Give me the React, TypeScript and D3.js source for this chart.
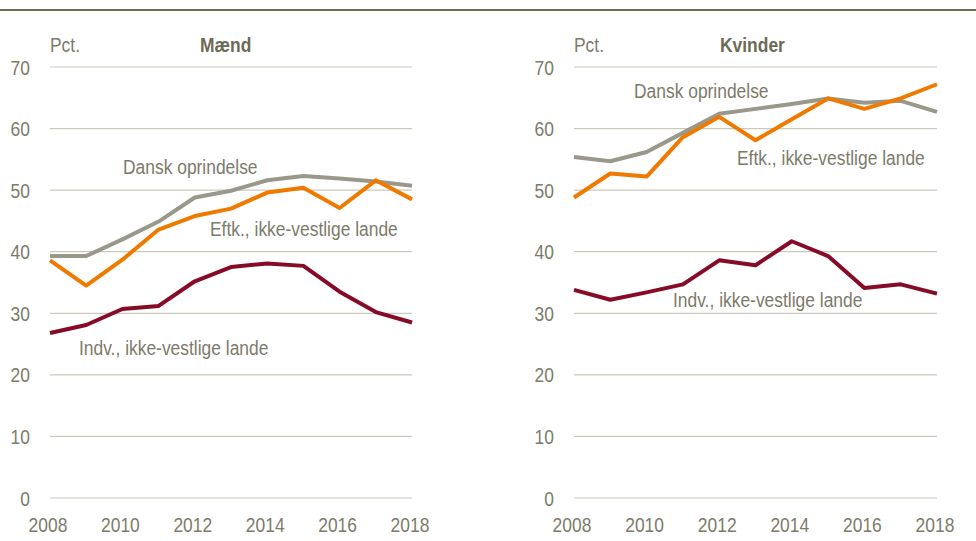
import React from "react";
import * as d3 from "d3";

const years = [2008, 2009, 2010, 2011, 2012, 2013, 2014, 2015, 2016, 2017, 2018];
const yTicks = [0, 10, 20, 30, 40, 50, 60, 70];
const xTicks = [2008, 2010, 2012, 2014, 2016, 2018];

// Mænd
const maendDansk = [39.3, 39.3, 42.0, 44.9, 48.8, 49.9, 51.6, 52.3, 51.9, 51.4, 50.7];
const maendEftk = [38.6, 34.5, 38.7, 43.6, 45.8, 47.0, 49.6, 50.4, 47.1, 51.6, 48.5];
const maendIndv = [26.8, 28.1, 30.7, 31.2, 35.2, 37.5, 38.1, 37.7, 33.5, 30.2, 28.5];

// Kvinder
const kvinderDansk = [55.4, 54.7, 56.2, 59.3, 62.4, 63.2, 64.0, 64.9, 64.2, 64.5, 62.7];
const kvinderEftk = [48.8, 52.7, 52.2, 58.6, 61.9, 58.1, 61.5, 64.9, 63.2, 64.9, 67.2];
const kvinderIndv = [33.8, 32.2, 33.4, 34.7, 38.6, 37.8, 41.7, 39.3, 34.1, 34.7, 33.2];

const labelDansk = "Dansk oprindelse";
const labelEftk = "Eftk., ikke-vestlige lande";
const labelIndv = "Indv., ikke-vestlige lande";

const FONT = "'Liberation Sans', Arial, sans-serif";
const TEXT = "#7d7b6a";
const GRID = "#cbc9bd";
const C_DANSK = "#9a988b";
const C_EFTK = "#ee7a00";
const C_INDV = "#850b27";
const SX = 0.83;

function NText(props: {
  x: number;
  y: number;
  anchor?: string;
  dy?: string;
  bold?: boolean;
  fill?: string;
  size?: number;
  children: React.ReactNode;
}) {
  const { x, y, anchor = "start", dy, bold, fill = TEXT, size = 21, children } = props;
  return (
    <text
      transform={`translate(${x},${y}) scale(${SX},1)`}
      textAnchor={anchor}
      dy={dy}
      fontSize={size}
      fontWeight={bold ? "bold" : "normal"}
      fill={fill}
      fontFamily={FONT}
    >
      {children}
    </text>
  );
}

type Lbl = { text: string; x: number; y: number };

function Panel(props: {
  x0: number;
  x1: number;
  title: string;
  titleX: number;
  dansk: number[];
  eftk: number[];
  indv: number[];
  labels: Lbl[];
}) {
  const { x0, x1, title, titleX, dansk, eftk, indv, labels } = props;
  const x = d3.scaleLinear().domain([2008, 2018]).range([x0, x1]);
  const y = d3.scaleLinear().domain([0, 70]).range([498, 67]);
  const line = d3
    .line<number>()
    .x((_, i) => x(years[i]))
    .y((d) => y(d));
  const series = [
    { v: dansk, c: C_DANSK },
    { v: eftk, c: C_EFTK },
    { v: indv, c: C_INDV },
  ];
  return (
    <g>
      {yTicks.map((t) => (
        <g key={t}>
          <line x1={x0} x2={x1} y1={y(t)} y2={y(t)} stroke={GRID} strokeWidth={1.2} />
          <NText x={x0 - 20} y={y(t)} dy="0.36em" anchor="end">
            {t}
          </NText>
        </g>
      ))}
      {xTicks.map((t) => (
        <NText key={t} x={x(t) - 2} y={532} anchor="middle">
          {t}
        </NText>
      ))}
      <NText x={x0} y={52}>Pct.</NText>
      <NText x={titleX} y={52} bold fill="#6c6a58">
        {title}
      </NText>
      {series.map((s, i) => (
        <path
          key={i}
          d={line(s.v) || ""}
          fill="none"
          stroke={s.c}
          strokeWidth={4}
          strokeLinejoin="round"
        />
      ))}
      {labels.map((l, i) => (
        <NText key={i} x={l.x} y={l.y}>
          {l.text}
        </NText>
      ))}
    </g>
  );
}

export default function App() {
  return (
    <svg
      width={976}
      height={541}
      style={{ position: "absolute", left: 0, top: 0, background: "#fff" }}
    >
      <rect x={0} y={0} width={976} height={541} fill="#fff" />
      <line x1={0} x2={976} y1={10} y2={10} stroke="#6f6c56" strokeWidth={2} />
      <Panel
        x0={50}
        x1={412}
        title="Mænd"
        titleX={200}
        dansk={maendDansk}
        eftk={maendEftk}
        indv={maendIndv}
        labels={[
          { text: labelDansk, x: 123, y: 174 },
          { text: labelEftk, x: 210, y: 236 },
          { text: labelIndv, x: 79, y: 355 },
        ]}
      />
      <Panel
        x0={574}
        x1={937}
        title="Kvinder"
        titleX={720}
        dansk={kvinderDansk}
        eftk={kvinderEftk}
        indv={kvinderIndv}
        labels={[
          { text: labelDansk, x: 634, y: 98 },
          { text: labelEftk, x: 737, y: 165 },
          { text: labelIndv, x: 673, y: 307 },
        ]}
      />
    </svg>
  );
}
